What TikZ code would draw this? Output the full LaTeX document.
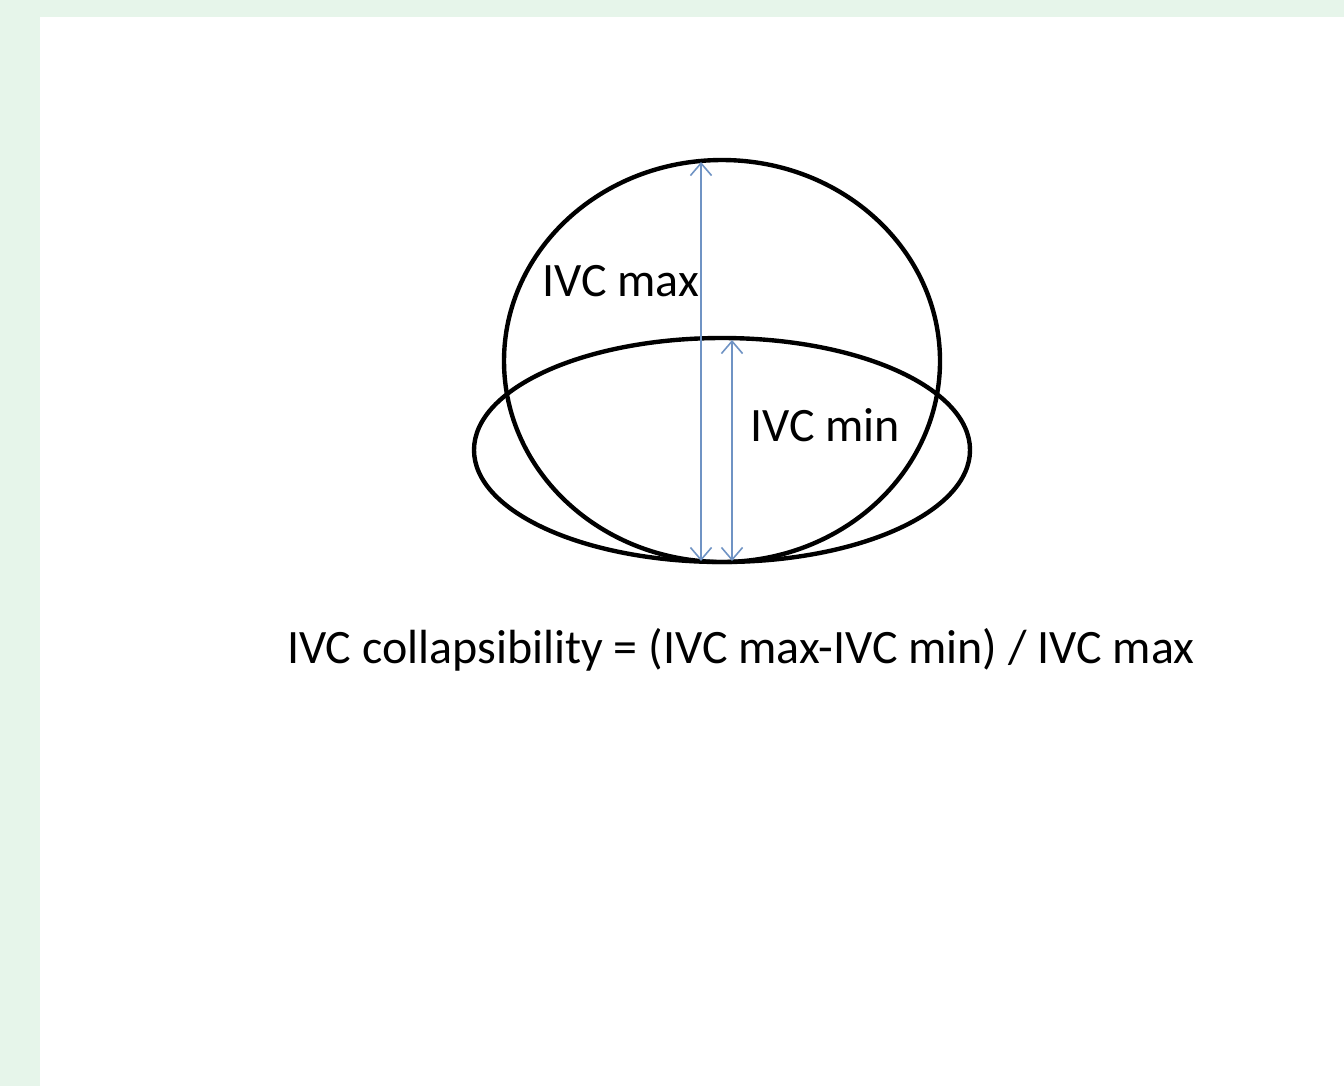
\documentclass[tikz,border=0pt]{standalone}
\usepackage{fontspec}
\setmainfont{Carlito}
\usetikzlibrary{arrows.meta,shapes.geometric}
\definecolor{bggreen}{HTML}{E6F5EA}
\definecolor{arrowblue}{HTML}{6F93C4}
\begin{document}
\begin{tikzpicture}[x=0.02cm,y=-0.02cm,
  outline/.style={draw=black,line width=2.5pt,ellipse,inner sep=0pt},
  measure/.style={draw=arrowblue,line width=0.9pt,{Straight Barb[length=7pt,width=12pt]}-{Straight Barb[length=7pt,width=12pt]}},
  lbl/.style={font=\fontsize{27.3}{32}\selectfont,inner sep=0pt}]
\fill[bggreen] (0,0) rectangle (1344,1086);
\fill[white] (40,17) rectangle (1344,1086);
\useasboundingbox (0,0) rectangle (1344,1086);
\node[outline,minimum width=0.02cm*436,minimum height=0.02cm*402] (circ) at (722,361) {};
\node[outline,minimum width=0.02cm*496,minimum height=0.02cm*224] (ell) at (722,450) {};
\coordinate (maxtop) at (701,162);
\coordinate (maxbot) at (701,561);
\coordinate (mintop) at (732,340);
\coordinate (minbot) at (732,561);
\draw[measure] (maxbot) -- (maxtop);
\draw[measure] (minbot) -- (mintop);
\node[lbl,anchor=west] (lmax) at (542,281) {IVC max};
\node[lbl,anchor=west] (lmin) at (750,425) {IVC min};
\node[lbl] (formula) at (741,650) {IVC collapsibility = (IVC max-IVC min) / IVC max};
\end{tikzpicture}
\end{document}
